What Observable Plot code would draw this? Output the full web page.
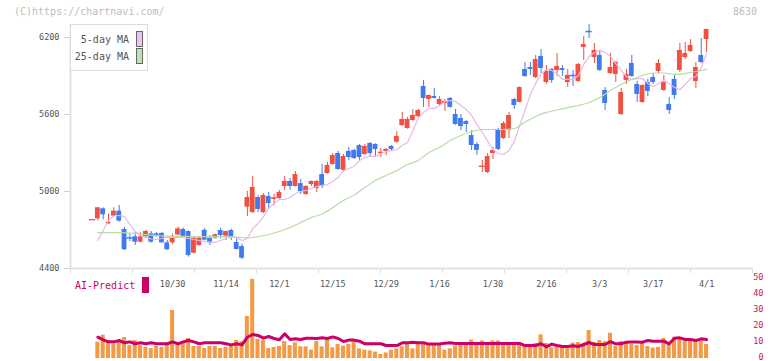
<!DOCTYPE html>
<html><head><meta charset="utf-8">
<script src="https://cdn.jsdelivr.net/npm/d3@7"></script>
<script src="https://cdn.jsdelivr.net/npm/@observablehq/plot@0.6"></script>
<style>
body{margin:0;background:#fff;}
#wrap{position:relative;width:772px;height:361px;overflow:hidden;font-family:"DejaVu Sans Mono",monospace;}
#wrap svg{position:absolute;left:0;top:0;}
.t{position:absolute;white-space:pre;font-size:10px;line-height:12px;}
</style></head><body>
<div id="wrap"></div>
<script>
// ---- data ----
const open  = [4778,4787,4865,4748,4808,4847,4704,4641,4647,4605,4647,4670,4670,4673,4600,4600,4661,4704,4688,4519,4579,4698,4636,4636,4696,4652,4696,4603,4571,4878,4836,4953,4836,4961,4938,4945,5039,5078,5039,5062,4977,5054,5023,5132,5140,5210,5296,5164,5312,5320,5358,5288,5374,5366,5294,5312,5351,5384,5514,5491,5553,5584,5818,5717,5740,5678,5686,5725,5600,5569,5545,5436,5366,5193,5148,5296,5483,5413,5475,5717,5694,5951,5966,5888,6052,5849,5951,5943,5958,5849,5906,5857,6122,6249,6044,6060,5787,5919,5912,5600,5865,5997,5834,5693,5849,5888,5935,5787,5678,5873,5943,6044,6091,5857,6060,6184];
const high  = [4782,4876,4873,4826,4873,4891,4719,4670,4683,4678,4698,4688,4680,4680,4618,4670,4722,4714,4694,4640,4640,4709,4657,4668,4712,4692,4706,4631,4590,5000,5117,4969,4984,4992,4977,5008,5117,5101,5156,5093,5045,5082,5086,5210,5226,5296,5312,5288,5343,5330,5365,5366,5382,5372,5335,5335,5358,5467,5616,5577,5639,5639,5865,5752,5803,5740,5717,5732,5639,5600,5553,5475,5382,5242,5296,5343,5491,5545,5616,5725,5815,6005,6005,6060,6106,5982,5958,6075,5982,5951,5943,5997,6208,6301,6153,6091,5810,6075,6013,5803,5951,6060,5857,5830,5873,5919,6028,5904,5732,5904,6153,6161,6184,6005,6192,6265];
const low   = [4776,4772,4779,4741,4806,4761,4540,4610,4579,4600,4640,4598,4645,4598,4540,4585,4655,4636,4488,4515,4575,4615,4579,4630,4631,4618,4618,4544,4470,4805,4830,4836,4828,4868,4891,4940,5008,5008,5035,4977,4969,5039,4992,5023,5135,5205,5165,5148,5242,5250,5242,5283,5273,5265,5265,5281,5312,5374,5506,5485,5548,5577,5655,5655,5720,5662,5623,5650,5515,5475,5460,5320,5281,5148,5140,5249,5320,5405,5413,5639,5690,5888,5904,5880,5919,5834,5842,5896,5896,5810,5818,5850,6020,6192,5997,5935,5631,5912,5849,5592,5834,5890,5693,5688,5740,5834,5919,5780,5600,5717,5927,6028,6083,5803,5997,6083];
const close = [4780,4873,4818,4761,4847,4769,4546,4637,4605,4647,4688,4605,4649,4600,4546,4647,4709,4647,4501,4636,4636,4621,4600,4663,4657,4688,4642,4548,4480,4953,5031,4860,4969,4906,4951,4992,5078,5039,5132,5000,5039,5078,5078,5039,5203,5280,5171,5273,5265,5257,5265,5351,5296,5327,5306,5327,5327,5428,5561,5561,5592,5631,5725,5748,5725,5717,5701,5655,5522,5506,5522,5358,5320,5196,5273,5320,5327,5530,5592,5670,5810,5896,5951,6028,5958,5935,5865,5974,5943,5904,5902,5990,6145,6245,6099,5943,5686,5966,6005,5771,5912,5896,5756,5826,5779,5849,5997,5849,5631,5748,6099,6075,6138,5966,6005,6262];
// 5-day moving average, candles 1..115
const ma5 = [4618,4696,4774,4809,4813,4805,4743,4688,4657,4642,4630,4626,4634,4642,4642,4642,4642,4634,4626,4618,4610,4606,4603,4618,4634,4649,4642,4618,4634,4712,4751,4805,4868,4906,4938,4938,4953,4984,5000,5008,5023,5039,5047,5054,5078,5109,5163,5179,5195,5241,5265,5273,5273,5296,5312,5319,5327,5358,5382,5475,5569,5616,5647,5647,5670,5701,5709,5701,5670,5639,5592,5522,5460,5390,5327,5296,5288,5320,5390,5514,5631,5756,5842,5912,5951,5943,5919,5873,5873,5873,5904,5990,6052,6083,6099,6083,6052,5997,5943,5896,5873,5880,5880,5841,5818,5841,5865,5841,5810,5795,5834,5880,5896,5966,6075];
// 25-day moving average, read at these candles
const ma25Idx = [1,5,8,11,14,19,23,27,29,31,33,35,37,39,41,43,45,47,49,51,53,55,57,59,61,63,65,67,69,71,73,75,77,79,81,83,85,87,89,91,93,95,97,99,101,103,105,107,109,111,113,115];
const ma25Val = [4680,4680,4673,4660,4652,4649,4649,4645,4638,4649,4665,4688,4719,4758,4797,4825,4875,4930,4973,5031,5086,5125,5163,5210,5241,5304,5343,5397,5436,5467,5483,5483,5483,5491,5541,5584,5616,5635,5654,5670,5693,5732,5787,5834,5873,5904,5923,5923,5912,5919,5935,5951];
// volume panel (first candle has no bar)
const volume = [null,
  10.2,14.6,11.25,9.2,10.8,13.1,8.1,11.25,8.1,6.9,6.25,7.5,6.9,8.5,
  30,
  8.5,9.8,12.5,7.5,7.5,6.25,7.5,7.5,6.25,6.9,8.1,11.25,10.6,
  26.25,49.5,
  11.9,11.25,6.25,6.9,7.5,10.6,
  8.1,9.8,7.3,7.3,5.2,10.6,7.3,12.3,6.7,8.8,
  7.7,8.8,10.6,6,5.2,4.8,4,2.5,3.5,5.2,
  6,7.3,8.8,6,8.8,9.8,8.8,8.1,8.1,5.2,
  6,7.7,8.8,9.8,11.5,8.8,11,9.8,11,11,
  8.8,8.8,8.8,8.8,7.7,8.8,9.4,14.8,9.4,6.7,
  7.3,
  6.7,6.7,9.6,10,7.5,17.5,10,11.25,10.6,15.8,7.5,10.6,10,8.75,8.1,9.6,7.5,6.5,6.9,12.5,8.75,13.3,11.7,10.8,11.7,10.2,11.25,8.75];
const aiPredict = [null,
  13.3,11.7,10.4,10.4,11.25,9.8,10.4,9.2,9.8,9.2,
  9.8,9.2,9.2,9.2,10.4,9.2,10.4,11.25,10.4,9.2,
  9.8,9.8,9.8,9.8,9.2,8.5,9.2,8.5,13.3,15,
  14.4,12.7,13.75,12.5,11.7,15.4,
  11.9,12.3,11.9,12.7,12.7,12.5,12.9,12.5,13.5,12.5,
  10.6,11.5,11.5,10.8,9.2,9.2,9.2,9.2,8.1,8.1,
  8.1,9.8,9.8,10.2,9.8,9.8,9,9,9,9.6,
  9.8,9.4,9.4,9.4,9.4,9.4,9.4,9.4,9.4,9.4,9.4,9.4,9.4,9.4,
  8.1,8.1,8.1,9.2,7.3,9,8.1,
  7.5,7.5,7.9,7.5,8.75,10,8.75,8.75,8.75,10.6,9.2,9.2,10.2,10.3,10.3,10.2,11.25,10.8,10.8,10.8,9.2,12.7,12.9,11.9,11.9,11.25,12.3,11.9];
const xLabelIdx = [15,25,35,45,55,65,75,85,95,105,115];
const xLabels = ["10/30","11/14","12/1","12/15","12/29","1/16","1/30","2/16","3/3","3/17","4/1"];
const yTicks = [4400,5000,5600,6200];
const volTicks = [0,10,20,30,40,50];

// ---- drawing ----
const UP = "#ef5040", DOWN = "#4279ef";
const X_DOMAIN = [-4.12, 123.6];
const candles = open.map((o, i) => ({i, o, h: high[i], l: low[i], c: close[i]}));
const col = d => d.c >= d.o ? UP : DOWN;
const labelOf = new Map(xLabelIdx.map((v, k) => [v, xLabels[k]]));
const frameTicks = d3.range(12).map(k => X_DOMAIN[0] + k * (X_DOMAIN[1] - X_DOMAIN[0]) / 11);
const baseStyle = {background: "transparent", fontFamily: "DejaVu Sans Mono, monospace", fontSize: "8.5px", color: "#555", overflow: "visible"};

const main = Plot.plot({
  width: 772, height: 361, marginLeft: 70, marginRight: 20, marginTop: 24, marginBottom: 93,
  x: {domain: X_DOMAIN, axis: null}, y: {domain: [4400, 6301], axis: null},
  color: {type: "identity"},
  style: baseStyle,
  marks: [
    Plot.axisX(frameTicks, {tickSize: 5, tickFormat: () => "", stroke: "#dcdcdc", label: null}),
    Plot.axisX(xLabelIdx, {tickSize: 0, tickPadding: 12, tickFormat: d => labelOf.get(d), fill: "#555", label: null}),
    Plot.axisY(yTicks, {tickSize: 6, tickPadding: 5, tickFormat: d => String(d), stroke: "#cfcfcf", fill: "#555", label: null}),
    Plot.ruleX([X_DOMAIN[0]], {stroke: "#e2e2e2", strokeWidth: 2}),
    Plot.ruleY([4400], {stroke: "#e2e2e2", strokeWidth: 2}),
    Plot.ruleX(candles, {x: "i", y1: "l", y2: "h", stroke: col, strokeWidth: 1}),
    Plot.rect(candles, {x1: d => d.i - 0.45, x2: d => d.i + 0.45, y1: d => Math.min(d.o, d.c), y2: d => Math.max(d.o, d.c), fill: col}),
    Plot.ruleY(candles.filter(d => Math.abs(d.o - d.c) < 10), {x1: d => d.i - 0.6, x2: d => d.i + 0.6, y: "c", stroke: col, strokeWidth: 1.2}),
    Plot.line(ma5, {x: (d, k) => k + 1, y: d => d, stroke: "#e9b6ec", strokeWidth: 1.2}),
    Plot.line(ma25Idx, {x: d => d, y: (d, k) => ma25Val[k], stroke: "#b6dca6", strokeWidth: 1.2, curve: "monotone-x"})
  ]
});

const vol = Plot.plot({
  width: 772, height: 361, marginLeft: 70, marginRight: 20, marginTop: 278, marginBottom: 3,
  x: {domain: X_DOMAIN, axis: null}, y: {domain: [0, 50], axis: null},
  style: baseStyle,
  marks: [
    Plot.rect(volume, {x1: (d, i) => i - 0.38, x2: (d, i) => i + 0.38, y1: () => 0, y2: d => d, fill: "#f39a48"}),
    Plot.line(aiPredict, {x: (d, i) => i, y: d => d, stroke: "#cc0066", strokeWidth: 3}),
    Plot.axisY(volTicks, {anchor: "right", tickSize: 0, tickPadding: 11, textAnchor: "end", dy: -1, tickFormat: d => String(d), fill: "#cc1166", label: null})
  ]
});

const wrap = document.getElementById("wrap");
wrap.appendChild(vol);
wrap.appendChild(main);

function addText(txt, left, top, color, extra) {
  const d = document.createElement("div");
  d.className = "t"; d.textContent = txt;
  d.style.left = left + "px"; d.style.top = top + "px"; d.style.color = color;
  if (extra) Object.assign(d.style, extra);
  wrap.appendChild(d); return d;
}
function addBox(left, top, w, h, style) {
  const d = document.createElement("div");
  d.style.position = "absolute"; d.style.left = left + "px"; d.style.top = top + "px";
  d.style.width = w + "px"; d.style.height = h + "px"; d.style.boxSizing = "border-box";
  Object.assign(d.style, style); wrap.appendChild(d); return d;
}
addText("(C)https://chartnavi.com/", 14, 6, "#bdbdbd");
addText("8630", 733, 6, "#bdbdbd");
// MA legend
addBox(70, 24, 78, 47, {border: "1px solid #dcdcdc", background: "#fff"});
addText("5-day MA", 0, 34, "#555", {width: "129px", textAlign: "right"});
addText("25-day MA", 0, 51, "#555", {width: "129px", textAlign: "right"});
addBox(136, 31, 7, 16, {border: "1px solid #666", background: "#f0c2f2"});
addBox(136, 48, 7, 16, {border: "1px solid #666", background: "#c2e2b4"});
// AI-Predict legend
addText("AI-Predict", 75, 280, "#cc0066");
addBox(142, 277, 7, 16, {background: "#cc0066"});
</script>
</body></html>
